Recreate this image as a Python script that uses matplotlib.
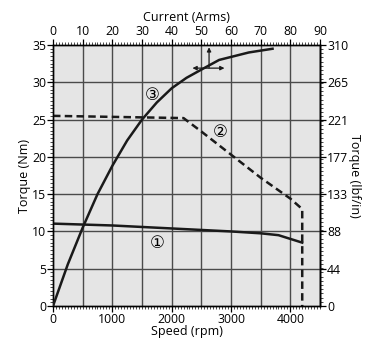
import numpy as np
import matplotlib.pyplot as plt
from matplotlib.ticker import MultipleLocator

plt.rcParams['font.family'] = ['Open Sans', 'DejaVu Sans']
plt.rcParams['font.size'] = 9

# ---------------------------
# 数据
# ---------------------------
# ① 连续转矩 (speed rpm, torque Nm)
speed_1 = [0, 1000, 2000, 3000, 3500, 3800, 4200]
torque_1 = [11.05, 10.8, 10.4, 10.0, 9.75, 9.5, 8.5]

# ② 峰值转矩
speed_2 = [0, 2200, 2500, 3000, 3500, 4000, 4200, 4200]
torque_2 = [25.5, 25.2, 23.4, 20.3, 17.2, 14.4, 13.0, 0.0]

# ③ 转矩 - 电流 (current Arms, torque Nm)
current_3 = [0, 5, 10, 15, 20, 25, 30, 35, 40, 45, 50, 56, 60, 66, 74]
torque_3 = [0, 5.6, 10.5, 15.0, 18.8, 22.2, 25.0, 27.3, 29.2, 30.6, 31.7, 33.0, 33.4, 34.0, 34.5]

speed_ticks = [0, 1000, 2000, 3000, 4000]
current_ticks = [0, 10, 20, 30, 40, 50, 60, 70, 80, 90]
nm_ticks = [0, 5, 10, 15, 20, 25, 30, 35]
lbf_labels = ['0', '44', '88', '133', '177', '221', '265', '310']

NM_TO_LBFIN = 8.851

fig = plt.figure(figsize=(3.67, 3.41), dpi=100)
ax = fig.add_axes([0.1444, 0.1026, 0.7276, 0.7654])
ax.set_facecolor('#e5e5e5')

ax.set_xlim(0, 4500)
ax.set_ylim(0, 35)
ax.set_xticks(speed_ticks)
ax.xaxis.set_minor_locator(MultipleLocator(50))
ax.set_yticks(nm_ticks)
ax.yaxis.set_minor_locator(MultipleLocator(0.5))

# 网格线
for xv in np.arange(500, 4500, 500):
    ax.axvline(xv, color='#4a4a4a', lw=1.0, zorder=1)
for yv in nm_ticks[1:-1]:
    ax.axhline(yv, color='#4a4a4a', lw=1.0, zorder=1)

ax.plot(speed_1, torque_1, color='#1a1a1a', lw=1.8, zorder=3)
ax.plot(speed_2, torque_2, color='#1a1a1a', lw=1.8, ls=(0, (3.0, 1.7)), zorder=3)

ax.set_xlabel('Speed (rpm)', labelpad=-1)
ax.set_ylabel('Torque (Nm)', labelpad=1)

# 上方电流轴
ax3 = ax.twiny()
ax3.set_xlim(0, 90)
ax3.set_xticks(current_ticks)
ax3.xaxis.set_minor_locator(MultipleLocator(1))
ax3.plot(current_3, torque_3, color='#1a1a1a', lw=1.8, zorder=3)
ax3.set_xlabel('Current (Arms)', labelpad=3)

# 方向箭头
ax3.annotate('', xy=(52.6, 34.7), xytext=(52.6, 31.9),
             arrowprops=dict(arrowstyle='-|>', color='#1a1a1a', lw=0.9,
                             mutation_scale=6, shrinkA=0, shrinkB=0))
ax3.annotate('', xy=(47.0, 31.9), xytext=(57.8, 31.9),
             arrowprops=dict(arrowstyle='<|-|>', color='#1a1a1a', lw=0.9,
                             mutation_scale=6, shrinkA=0, shrinkB=0))

# 右侧 lbf/in 轴
axr = ax.secondary_yaxis('right', functions=(lambda y: y * NM_TO_LBFIN,
                                             lambda y: y / NM_TO_LBFIN))
axr.set_yticks([t * NM_TO_LBFIN for t in nm_ticks])
axr.set_yticklabels(lbf_labels)
axr.yaxis.set_minor_locator(MultipleLocator(5))
axr.set_ylabel('Torque (lbf/in)', rotation=270, labelpad=9)

for a in (ax, ax3, axr):
    a.tick_params(which='major', direction='out', length=4, width=0.9, pad=1,
                  labelsize=8.8)
    a.tick_params(which='minor', direction='out', length=2, width=0.5)
for a in (ax, ax3):
    for s in a.spines.values():
        s.set_linewidth(1.0)
axr.spines['right'].set_linewidth(1.0)

# 曲线编号
label_font = ['DejaVu Sans', 'Noto Sans CJK SC']
ax.text(2810, 23.4, '②', fontsize=12, ha='center', va='center', family=label_font, zorder=4)
ax.text(1750, 8.4, '①', fontsize=12, ha='center', va='center', family=label_font, zorder=4)
ax.text(1680, 28.3, '③', fontsize=12, ha='center', va='center', family=label_font, zorder=4)

fig.savefig('out.png', dpi=100)
